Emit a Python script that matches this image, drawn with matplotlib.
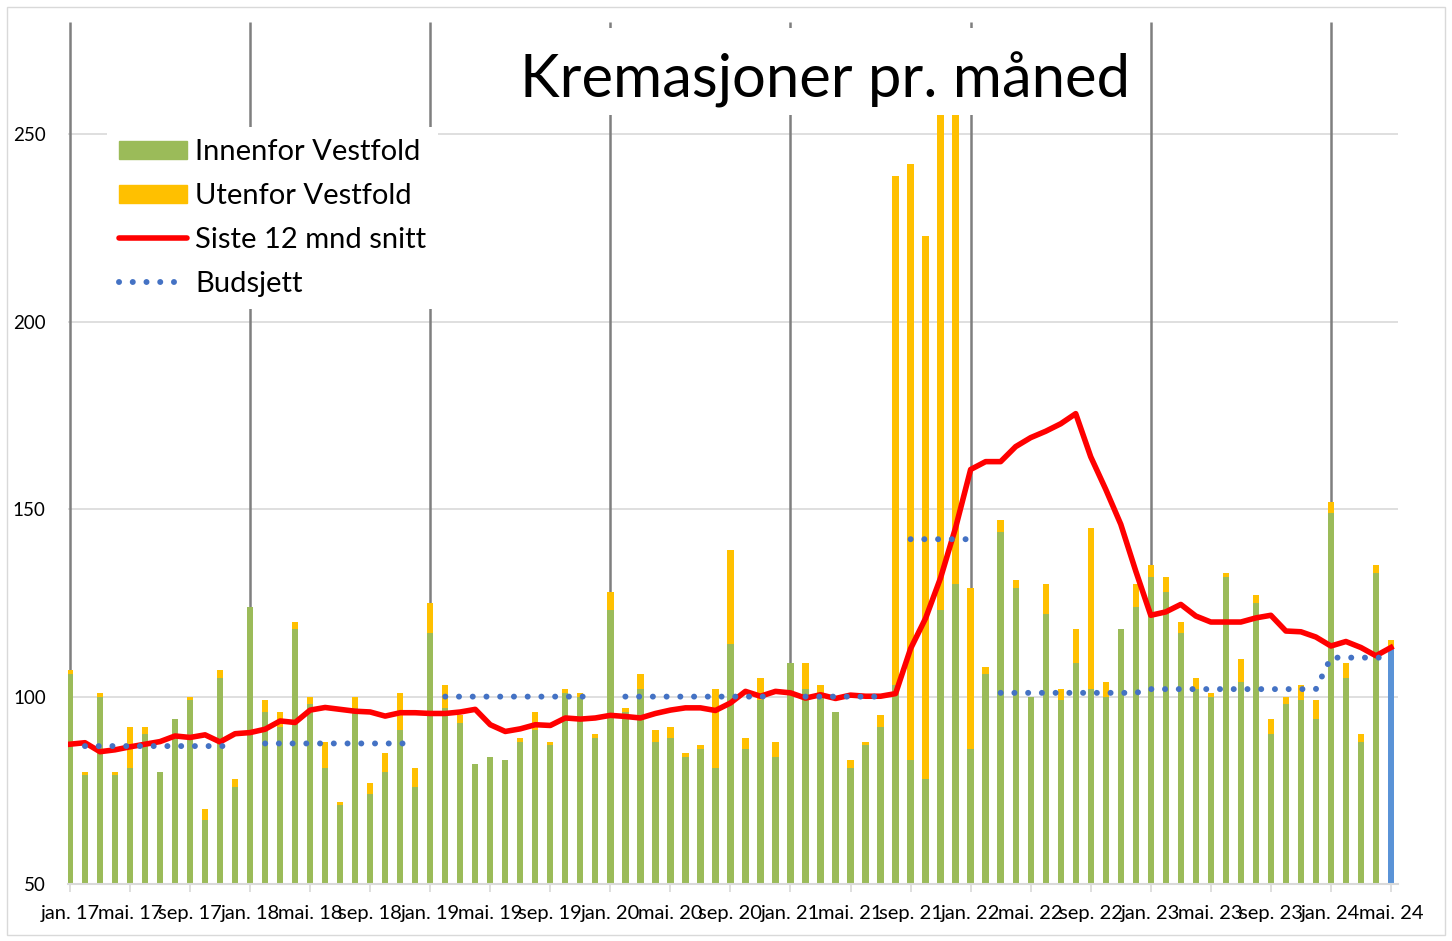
import matplotlib.pyplot as plt
from matplotlib.patches import Patch, Rectangle
from matplotlib.lines import Line2D
import numpy as np

plt.rcParams['font.family'] = ['Lato', 'DejaVu Sans']

nan = np.nan
mnd = ["jan.", "feb.", "mar.", "apr.", "mai.", "jun.", "jul.", "aug.", "sep.", "okt.", "nov.", "des."]
maaneder = [f"{m} {y}" for y in range(17, 25) for m in mnd][:89]

innenfor = [106, 79, 100, 79, 81, 90, 80, 94, 99, 67, 105, 76,
            124, 96, 92, 118, 98, 81, 71, 97, 74, 80, 91, 76,
            117, 97, 93, 82, 84, 83, 88, 91, 87, 101, 100, 89,
            123, 96, 102, 88, 89, 84, 86, 81, 114, 86, 99, 84,
            109, 102, 101, 96, 81, 87, 92, 103, 83, 78, 123, 130,
            86, 106, 144, 129, 100, 122, 99, 109, 102, 100, 118, 124,
            132, 128, 117, 102, 100, 132, 104, 125, 90, 98, 99, 94,
            149, 105, 88, 133, 113]

utenfor = [1, 1, 1, 1, 11, 2, 0, 0, 1, 3, 2, 2,
           0, 3, 4, 2, 2, 7, 1, 3, 3, 5, 10, 5,
           8, 6, 2, 0, 0, 0, 1, 5, 1, 1, 1, 1,
           5, 1, 4, 3, 3, 1, 1, 21, 25, 3, 6, 4,
           0, 7, 2, 0, 2, 1, 3, 136, 159, 145, 143, 144,
           43, 2, 3, 2, 0, 8, 3, 9, 43, 4, 0, 6,
           3, 4, 3, 3, 1, 1, 6, 2, 4, 2, 4, 5,
           3, 4, 2, 2, 2]

snitt = [87.3, 87.7, 85.3, 85.8, 86.6, 87.3, 88.0, 89.5, 89.1, 89.8, 87.9, 90.1,
         90.4, 91.3, 93.5, 93.1, 96.4, 97.1, 96.6, 96.1, 95.9, 94.8, 95.7, 95.7,
         95.5, 95.5, 95.9, 96.6, 92.5, 90.7, 91.4, 92.5, 92.3, 94.3, 94.0, 94.3,
         95.0, 94.7, 94.3, 95.5, 96.4, 97.0, 97.0, 96.3, 98.3, 101.4, 100.1, 101.4,
         101.0, 99.6, 100.5, 99.5, 100.4, 100.1, 100.1, 100.8, 112.8, 120.9, 131.7, 145.1,
         160.6, 162.7, 162.7, 166.7, 169.1, 170.8, 172.8, 175.5, 164.0, 155.3, 146.0, 133.5,
         121.7, 122.6, 124.6, 121.5, 119.9, 119.9, 119.9, 121.0, 121.7, 117.5, 117.3, 115.9,
         113.5, 114.7, 113.1, 110.9, 113.1]

budsjett = ([nan] + [86.8] * 11 + [nan] + [87.5] * 11 + [nan] + [100] * 11 +
            [nan] + [100] * 11 + [nan] + [100] * 6 + [nan] + [142] * 5 + [nan] +
            [101] * 10 + [102] * 12 + [110.4] * 5)

groenn = '#9BBB59'
gul = '#FFC000'
x = np.arange(len(maaneder))

fig = plt.figure(figsize=(14.52, 9.41), dpi=100)
ax = fig.add_axes([68 / 1452, 1 - 884 / 941, 1330 / 1452, 862 / 941])

farger = [groenn] * (len(x) - 1) + ['#5A93D7']
ax.bar(x, innenfor, width=0.42, color=farger, zorder=3)
ax.bar(x, utenfor, width=0.42, bottom=innenfor, color=gul, zorder=3)

jan = [i for i, m in enumerate(maaneder) if m.startswith("jan.")]
ax.vlines(jan, 50, 280, color='#7F7F7F', lw=1.8, zorder=2)

prikk = (0, (0.01, 2.29))
ax.plot(x, snitt, color='#FF0000', lw=4.0, solid_joinstyle='round', zorder=4)
ax.plot(x, budsjett, color='#4472C4', lw=4.3, linestyle=prikk,
        dash_capstyle='round', zorder=5)

ax.set_ylim(50, 280)
ax.set_xlim(-0.13, 88.47)
ax.set_yticks([50, 100, 150, 200, 250])
ax.yaxis.grid(True, color='#D9D9D9', lw=1.2, zorder=0)
ax.set_axisbelow(True)
ax.tick_params(axis='y', length=0, pad=16, labelsize=13.5)
ax.set_xticks(x[::4])
ax.set_xticklabels(maaneder[::4], fontsize=14.5)
ax.tick_params(axis='x', length=6, color='#D9D9D9', width=1.2, pad=9)
for s in ['top', 'right', 'left']:
    ax.spines[s].set_visible(False)
ax.spines['bottom'].set_color('#D9D9D9')
ax.spines['bottom'].set_linewidth(1.5)
ax.spines['bottom'].set_zorder(6)

handles = [Patch(color=groenn), Patch(color=gul),
           Line2D([], [], color='#FF0000', lw=4.0, solid_capstyle='round'),
           Line2D([], [], color='#4472C4', lw=4.3, linestyle=prikk,
                  dash_capstyle='round')]
labels = ["Innenfor Vestfold", "Utenfor Vestfold", "Siste 12 mnd snitt", "Budsjett"]
leg = ax.legend(handles, labels, loc='upper left', bbox_to_anchor=(0.0293, 0.878),
                borderaxespad=0, fontsize=21, frameon=True, fancybox=False,
                edgecolor='none', facecolor='white', framealpha=1,
                handlelength=2.33, handleheight=0.55, handletextpad=0.27,
                labelspacing=0.61, borderpad=0.42)
leg.set_zorder(10)

# hvit boks bak tittelen
fig.add_artist(Rectangle((505 / 1452, 1 - 115 / 941), 635 / 1452, 87 / 941,
                         transform=fig.transFigure, facecolor='white',
                         edgecolor='none', zorder=2))
fig.text(825 / 1452, 1 - 97 / 941, "Kremasjoner pr. måned", ha='center',
         va='baseline', fontsize=43, zorder=3)

fig.add_artist(Rectangle((7 / 1452, 1 - 935 / 941), 1438 / 1452, 928 / 941,
                         transform=fig.transFigure, fill=False,
                         edgecolor='#D9D9D9', lw=1, zorder=1))

fig.savefig('out.png', dpi=100)
